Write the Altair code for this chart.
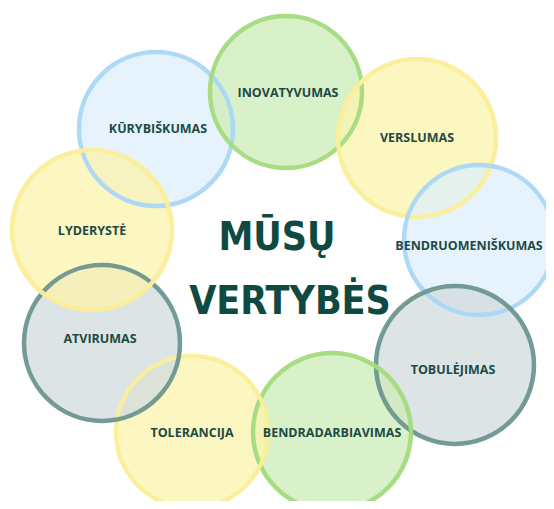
import altair as alt
import pandas as pd

# Values of the diagram (pixel-like coordinate space of the picture)
labels = ["KŪRYBIŠKUMAS", "INOVATYVUMAS", "VERSLUMAS", "BENDRUOMENIŠKUMAS",
          "TOBULĖJIMAS", "BENDRADARBIAVIMAS", "TOLERANCIJA", "ATVIRUMAS", "LYDERYSTĖ"]
kinds = ["blue", "green", "yellow", "blue", "teal", "green", "yellow", "teal", "yellow"]
cx = [156, 286, 417, 479, 455, 332, 192, 102, 92]
cy = [129, 92, 138, 240, 365, 432, 432, 343, 230]
radius = [77, 76, 79, 75, 79, 79, 76, 78, 80]
label_x = [158, 288, 417, 469, 453, 332, 192, 100, 92]
label_y = [129, 93, 138, 246, 370, 433, 433, 339, 231]

title_lines = ["MŪSŲ", "VERTYBĖS"]
title_x = [277, 290]
title_y = [250, 314]

kind_domain = ["blue", "green", "yellow", "teal"]
stroke_range = ["#a9d8f7", "#a5dc7f", "#fbef9a", "#6e9691"]
fill_range = ["#deeffb", "#ccecb7", "#fbf3ac", "#d2dbde"]

df = pd.DataFrame({
    "label": labels, "kind": kinds, "cx": cx, "cy": cy,
    # Vega circle symbol: radius = sqrt(size) / 2
    "size": [4 * r * r for r in radius],
    "lx": label_x, "ly": label_y,
})
tdf = pd.DataFrame({"t": title_lines, "x": title_x, "y": title_y})

W, H = 538, 493
xs = alt.Scale(domain=[8, 8 + W], nice=False, zero=False)
ys = alt.Scale(domain=[8, 8 + H], nice=False, zero=False, reverse=True)

base = alt.Chart(df)

fills = base.mark_circle(opacity=1, fillOpacity=0.75, strokeWidth=0).encode(
    x=alt.X("cx:Q", scale=xs, axis=None),
    y=alt.Y("cy:Q", scale=ys, axis=None),
    size=alt.Size("size:Q", scale=None, legend=None),
    fill=alt.Fill("kind:N", scale=alt.Scale(domain=kind_domain, range=fill_range), legend=None),
)

strokes = base.mark_point(shape="circle", filled=False, strokeWidth=4.5, opacity=0.95).encode(
    x=alt.X("cx:Q", scale=xs, axis=None),
    y=alt.Y("cy:Q", scale=ys, axis=None),
    size=alt.Size("size:Q", scale=None, legend=None),
    stroke=alt.Stroke("kind:N", scale=alt.Scale(domain=kind_domain, range=stroke_range), legend=None),
)

texts = base.mark_text(font="Open Sans", fontWeight="bold", fontSize=12.5,
                       color="#1c4a45", baseline="middle", align="center").encode(
    x=alt.X("lx:Q", scale=xs, axis=None),
    y=alt.Y("ly:Q", scale=ys, axis=None),
    text="label:N",
)

title = alt.Chart(tdf).mark_text(
    font="DejaVu Sans Condensed, sans-serif",
    fontWeight="bold", fontSize=39, color="#0f4a42",
    baseline="alphabetic", align="center").encode(
    x=alt.X("x:Q", scale=xs, axis=None),
    y=alt.Y("y:Q", scale=ys, axis=None),
    text="t:N",
)

chart = alt.layer(fills, strokes, texts, title).properties(
    width=W, height=H, padding=0,
    autosize=alt.AutoSizeParams(type="none"),
    background="white",
).configure_view(stroke=None)

chart.save("out.html", embed_options={"renderer": "svg", "actions": False})
